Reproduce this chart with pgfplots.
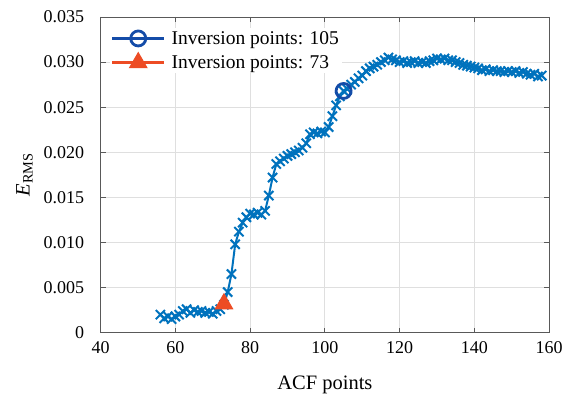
\documentclass[border=0pt]{standalone}
\usepackage{fontspec}
\setmainfont{Liberation Serif}
\usepackage{pgfplots}
\pgfplotsset{compat=1.18}
\definecolor{mblue}{rgb}{0,0.447,0.741}
\definecolor{dblue}{rgb}{0.08,0.30,0.66}
\definecolor{ored}{rgb}{0.93,0.30,0.14}
\begin{document}
\begin{tikzpicture}[x=1pt,y=1pt]
\begin{axis}[
  scale only axis,
  width=449pt, height=316pt,
  xmin=40, xmax=160, ymin=0, ymax=0.035,
  xtick={40,60,...,160},
  ytick={0,0.005,0.010,0.015,0.020,0.025,0.030,0.035},
  yticklabels={0,0.005,0.010,0.015,0.020,0.025,0.030,0.035},
  scaled y ticks=false,
  /pgf/number format/assume math mode=true,
  tick label style={font=\fontsize{18}{21}\selectfont, black},
  yticklabel style={xshift=-13pt},
  xticklabel style={yshift=-5pt},
  label style={font=\fontsize{20.5}{23}\selectfont},
  xlabel={ACF points},
  ylabel={\textit{E}\textsubscript{RMS}},
  xlabel style={yshift=-16pt},
  ylabel style={yshift=4pt},
  grid=major,
  major grid style={gray!25, line width=0.8pt},
  axis line style={black!65, line width=0.8pt},
  tick style={black!65, line width=0.8pt},
  tick align=inside,
  major tick length=5pt,
  legend style={at={(0.02,0.965)}, anchor=north west, draw=none, fill=white,
    font=\fontsize{19.5}{22}\selectfont, row sep=5pt, column sep=4pt, inner sep=1pt},
  legend cell align=left,
  legend image code/.code={\draw[mark repeat=2,mark phase=2,#1] plot coordinates {(0pt,0pt) (26pt,0pt) (52pt,0pt)};},
]
\addplot[mblue, line width=2pt, mark=x, mark size=6.5pt, mark options={line width=2pt}, forget plot] coordinates {
(56,0.0020)(57,0.0016)(58,0.0018)(59,0.0015)(60,0.0018)(61,0.0020)(62,0.0024)(63,0.0026)(64,0.0022)(65,0.0025)
(66,0.0023)(67,0.0024)(68,0.0022)(69,0.0023)(70,0.0021)(71,0.0024)(72,0.0026)(73,0.0031)(74,0.0045)(75,0.0065)
(76,0.0098)(77,0.0112)(78,0.0122)(79,0.0128)(80,0.0132)(81,0.0131)(82,0.0133)(83,0.0131)(84,0.0135)(85,0.0152)
(86,0.0172)(87,0.0187)(88,0.0190)(89,0.0193)(90,0.0196)(91,0.0198)(92,0.0200)(93,0.0202)(94,0.0205)(95,0.0210)
(96,0.0220)(97,0.0222)(98,0.0221)(99,0.0223)(100,0.0222)(101,0.0228)(102,0.0240)(103,0.0252)(104,0.0262)(105,0.0268)
(106,0.0270)(107,0.0275)(108,0.0278)(109,0.0282)(110,0.0285)(111,0.0290)(112,0.0293)(113,0.0295)(114,0.0297)(115,0.0300)
(116,0.0302)(117,0.0305)(118,0.0303)(119,0.0302)(120,0.0300)(121,0.0301)(122,0.0299)(123,0.0300)(124,0.0301)(125,0.0299)
(126,0.0300)(127,0.0299)(128,0.0301)(129,0.0302)(130,0.0304)(131,0.0303)(132,0.0304)(133,0.0302)(134,0.0302)(135,0.0300)
(136,0.0299)(137,0.0297)(138,0.0296)(139,0.0295)(140,0.0294)(141,0.0293)(142,0.0291)(143,0.0292)(144,0.0290)(145,0.0291)
(146,0.0290)(147,0.0290)(148,0.0289)(149,0.0290)(150,0.0289)(151,0.0290)(152,0.0288)(153,0.0289)(154,0.0287)(155,0.0286)
(156,0.0287)(157,0.0284)(158,0.0285)
};
\addplot[dblue, line width=3pt, mark=o, mark size=7.5pt, mark options={line width=2.8pt}] coordinates {(105,0.0268)};
\addlegendentry{Inversion points: 105}
\addplot[ored, line width=3pt, mark=triangle*, mark size=10pt, mark options={fill=ored, draw=ored, line width=1pt}] coordinates {(73,0.0032)};
\addlegendentry{Inversion points: 73}
\end{axis}
\path ([shift={(-100.7pt,-62pt)}]current axis.south west) rectangle ([shift={(16pt,17pt)}]current axis.north east);
\end{tikzpicture}
\end{document}
